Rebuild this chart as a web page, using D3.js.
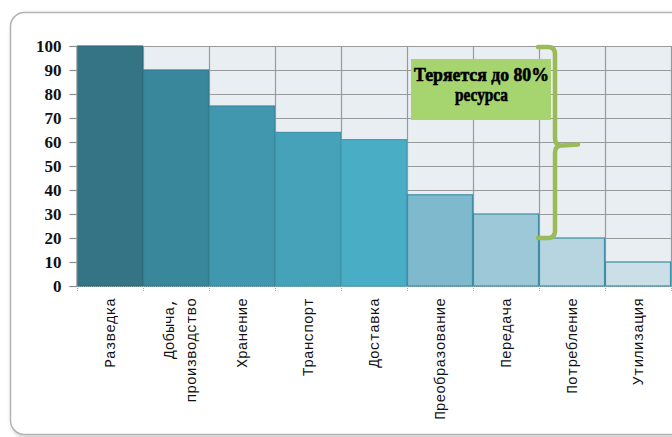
<!DOCTYPE html>
<html>
<head>
<meta charset="utf-8">
<script src="https://cdnjs.cloudflare.com/ajax/libs/d3/7.8.5/d3.min.js"></script>
<style>
	body { margin: 0; background: #fff; }
	svg { display: block; }
	.serif { font-family: "Liberation Serif", "Times New Roman", "DejaVu Serif", serif; }
	.mono { font-family: "Liberation Mono", "Courier New", "DejaVu Sans Mono", monospace; }
</style>
</head>
<body>
<div id="chart-div"></div>
<script>
//Data
var stages = ["Разведка", "Добыча,|производство", "Хранение", "Транспорт", "Доставка",
	"Преобразование", "Передача", "Потребление", "Утилизация"];
var remaining = [100, 90, 75, 64, 61, 38, 30, 20, 10];
var yTicks = [0, 10, 20, 30, 40, 50, 60, 70, 80, 90, 100];
var barColors = ["#347485", "#39879b", "#4197ae", "#45a2b9", "#4aadc6",
	"#7fb9cd", "#9dc8d7", "#b6d5e1", "#cbdfe7"];
var noteLines = ["Теряется до 80%", "ресурса"];
var lossRange = [20, 100];

//Canvas
var W = 672, H = 437;
var plot = {left: 77, right: 671, top: 46, bottom: 286};

var svg = d3.select("#chart-div").append("svg")
	.attr("width", W)
	.attr("height", H);

var defs = svg.append("defs");
var shadow = defs.append("filter").attr("id", "frameShadow")
	.attr("x", "-5%").attr("y", "-5%").attr("width", "110%").attr("height", "110%");
shadow.append("feDropShadow").attr("dx", 2).attr("dy", 2).attr("stdDeviation", 2)
	.attr("flood-color", "#000").attr("flood-opacity", 0.25);

//Frame
svg.append("rect")
	.attr("x", 10.5).attr("y", 12.5)
	.attr("width", 700).attr("height", 422)
	.attr("rx", 14)
	.attr("fill", "#fff")
	.attr("stroke", "#b3b3b3")
	.attr("stroke-width", 1.5)
	.attr("filter", "url(#frameShadow)");

//Scales
var xScale = d3.scaleBand().domain(stages).range([plot.left, plot.right]).padding(0);
var yScale = d3.scaleLinear().domain([0, 100]).range([plot.bottom, plot.top]);

//Plot background
svg.append("rect")
	.attr("x", plot.left).attr("y", plot.top)
	.attr("width", plot.right - plot.left).attr("height", plot.bottom - plot.top)
	.attr("fill", "#e8eef2");

//Grid
svg.append("g").selectAll("line")
	.data(yTicks)
	.enter().append("line")
	.attr("x1", plot.left).attr("x2", plot.right)
	.attr("y1", function(d) { return Math.round(yScale(d)) + 0.5; })
	.attr("y2", function(d) { return Math.round(yScale(d)) + 0.5; })
	.attr("stroke", "#9a9a9a").attr("stroke-width", 1.2);

svg.append("g").selectAll("line")
	.data(stages)
	.enter().append("line")
	.attr("x1", function(d) { return Math.round(xScale(d) + xScale.bandwidth()) + 0.5; })
	.attr("x2", function(d) { return Math.round(xScale(d) + xScale.bandwidth()) + 0.5; })
	.attr("y1", plot.top).attr("y2", plot.bottom)
	.attr("stroke", "#9a9a9a").attr("stroke-width", 1.2);

//Bars
svg.append("g").selectAll("rect")
	.data(stages)
	.enter().append("rect")
	.attr("x", function(d) { return xScale(d) + 0.5; })
	.attr("y", function(d, i) { return yScale(remaining[i]); })
	.attr("width", xScale.bandwidth() - 1)
	.attr("height", function(d, i) { return yScale(0) - yScale(remaining[i]); })
	.attr("fill", function(d, i) { return barColors[i]; })
	.attr("stroke", function(d, i) { return i < 5 ? d3.color(barColors[i]).darker(0.25) : "#3f8ea3"; })
	.attr("stroke-width", 1.2);

//Y axis
var yAxis = d3.axisLeft(yScale).tickValues(yTicks).tickSize(7).tickPadding(8);
var yG = svg.append("g")
	.attr("transform", "translate(" + (plot.left - 0.5) + ",0)")
	.call(yAxis)
	.attr("font-family", null)
	.attr("font-size", null);
yG.select(".domain").attr("stroke", "#8c8c8c").attr("stroke-width", 1.2);
yG.selectAll(".tick line").attr("stroke", "#8c8c8c").attr("stroke-width", 1.2);
yG.selectAll(".tick text")
	.attr("class", "serif")
	.style("font-weight", "bold")
	.style("font-size", "17px")
	.attr("fill", "#111");

//X axis line and ticks (dotted like the original)
svg.append("line")
	.attr("x1", plot.left).attr("x2", plot.right)
	.attr("y1", plot.bottom + 0.5).attr("y2", plot.bottom + 0.5)
	.attr("stroke", "#8fa6ad").attr("stroke-dasharray", "1,1");
svg.append("g").selectAll("line")
	.data([plot.left].concat(stages.map(function(d) { return xScale(d) + xScale.bandwidth(); })))
	.enter().append("line")
	.attr("x1", function(d) { return Math.round(d) + 0.5; })
	.attr("x2", function(d) { return Math.round(d) + 0.5; })
	.attr("y1", plot.bottom).attr("y2", plot.bottom + 5)
	.attr("stroke", "#aaa").attr("stroke-dasharray", "1,1");

//X labels, rotated
var labelTop = 298, lineGap = 22;
stages.forEach(function(name) {
	var parts = name.split("|");
	var cx = xScale(name) + xScale.bandwidth() / 2;
	parts.forEach(function(p, j) {
		var off = (j - (parts.length - 1) / 2) * lineGap + (parts.length > 1 ? 4 : 0);
		svg.append("text")
			.attr("class", "mono")
			.attr("transform", "translate(" + (cx + off + 5) + "," + labelTop + ") rotate(-90)")
			.attr("text-anchor", "end")
			.style("font-size", "14.5px")
			.attr("fill", "#111")
			.text(p);
	});
});

//Brace
var bx = xScale(stages[7]) - 1;
var yTop = yScale(lossRange[1]) + 1, yBot = yScale(lossRange[0]), yMid = (yTop + yBot) / 2 + 3;
var braceOpen = 17, braceTip = 40, r = 7;
var bracePath = d3.path();
bracePath.moveTo(bx, yTop);
bracePath.lineTo(bx + braceOpen - r, yTop);
bracePath.quadraticCurveTo(bx + braceOpen, yTop, bx + braceOpen, yTop + r);
bracePath.lineTo(bx + braceOpen, yMid - r);
bracePath.quadraticCurveTo(bx + braceOpen, yMid, bx + braceOpen + r, yMid);
bracePath.lineTo(bx + braceTip, yMid - 1);
bracePath.moveTo(bx + braceOpen + r, yMid);
bracePath.quadraticCurveTo(bx + braceOpen, yMid, bx + braceOpen, yMid + r);
bracePath.lineTo(bx + braceOpen, yBot - r);
bracePath.quadraticCurveTo(bx + braceOpen, yBot, bx + braceOpen - r, yBot);
bracePath.lineTo(bx, yBot);
svg.append("path")
	.attr("d", bracePath.toString())
	.attr("fill", "none")
	.attr("stroke", "#9bbb59")
	.attr("stroke-width", 4.5)
	.attr("stroke-linecap", "round")
	.attr("stroke-linejoin", "round");

//Note box
var noteX = 411, noteY = 59, noteW = 140, noteH = 61;
var noteWidths = [135, 53];
svg.append("rect")
	.attr("x", noteX).attr("y", noteY)
	.attr("width", noteW).attr("height", noteH)
	.attr("fill", "#a6d56f");
svg.append("g").selectAll("text")
	.data(noteLines)
	.enter().append("text")
	.attr("class", "serif")
	.attr("x", noteX + noteW / 2 + 0.5)
	.attr("y", function(d, i) { return noteY + 22 + i * 20; })
	.attr("text-anchor", "middle")
	.attr("textLength", function(d, i) { return noteWidths[i]; })
	.attr("lengthAdjust", "spacingAndGlyphs")
	.style("font-weight", "bold")
	.style("font-size", "19px")
	.attr("fill", "#000")
	.attr("stroke", "#000").attr("stroke-width", 0.6)
	.text(function(d) { return d; });
</script>
</body>
</html>
